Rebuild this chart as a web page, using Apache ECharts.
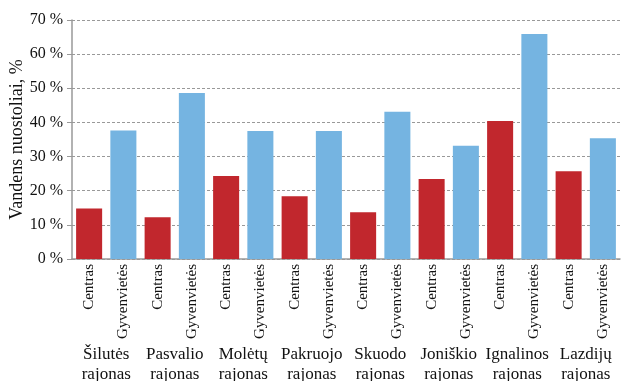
<!DOCTYPE html>
<html>
<head>
<meta charset="utf-8">
<script src="https://cdn.jsdelivr.net/npm/echarts@6/dist/echarts.min.js"></script>
<style>
  html, body { margin: 0; padding: 0; background: #fff; }
  #main { width: 621px; height: 381px; }
</style>
</head>
<body>
<div id="main"></div>
<script>
// duomenys
var districts = ['Šilutės\nrajonas', 'Pasvalio\nrajonas', 'Molėtų\nrajonas', 'Pakruojo\nrajonas',
  'Skuodo\nrajonas', 'Joniškio\nrajonas', 'Ignalinos\nrajonas', 'Lazdijų\nrajonas'];
var kinds = ['Centras', 'Gyvenvietės'];
var centras = [14.8, 12.2, 24.3, 18.4, 13.7, 23.4, 40.4, 25.7];
var gyvenvietes = [37.6, 48.6, 37.5, 37.5, 43.1, 33.2, 65.9, 35.4];
var yTicks = [0, 10, 20, 30, 40, 50, 60, 70];

var RED = '#c1272d';
var BLUE = '#75b4e1';
var FONT = '"Liberation Serif", "DejaVu Serif", serif';

// 16 stulpelių: kiekvienam rajonui centras ir gyvenvietės
var cats = [];
var vals = [];
districts.forEach(function (d, i) {
  cats.push(kinds[0]);
  vals.push({ value: centras[i], itemStyle: { color: RED } });
  cats.push(kinds[1]);
  vals.push({ value: gyvenvietes[i], itemStyle: { color: BLUE } });
});

var myChart = echarts.init(document.getElementById('main'));

var option = {
  animation: false,
  grid: { left: 72, right: 1, top: 20, bottom: 122, outerBoundsMode: 'none', containLabel: false },
  xAxis: [{
    type: 'category',
    data: cats,
    position: 'bottom',
    axisLine: { lineStyle: { color: '#999', width: 1.5 } },
    axisTick: { length: 78, lineStyle: { color: '#999' } },
    axisLabel: {
      rotate: 90,
      interval: 0,
      margin: 5,
      color: '#111',
      fontFamily: FONT,
      fontSize: 15
    }
  }, {
    type: 'category',
    data: districts,
    position: 'bottom',
    axisLine: { show: false },
    axisTick: { length: 122, lineStyle: { color: '#999' } },
    axisLabel: {
      interval: 0,
      margin: 86,
      color: '#111',
      fontFamily: FONT,
      fontSize: 17,
      lineHeight: 20,
      verticalAlign: 'top'
    }
  }],
  yAxis: {
    type: 'value',
    min: 0,
    max: 70,
    interval: 10,
    name: 'Vandens nuostoliai, %',
    nameLocation: 'middle',
    nameGap: 46,
    nameMoveOverlap: false,
    nameTextStyle: { fontFamily: FONT, fontSize: 18, color: '#111' },
    axisLine: { show: true, lineStyle: { color: '#999', width: 1.5 } },
    axisTick: { show: true, length: 5, lineStyle: { color: '#999' } },
    axisLabel: {
      margin: 9,
      color: '#111',
      fontFamily: FONT,
      fontSize: 16,
      formatter: function (v) { return yTicks.indexOf(v) >= 0 ? v + ' %' : ''; }
    },
    splitLine: { lineStyle: { color: '#999', type: [3, 2] } }
  },
  series: [{
    type: 'bar',
    data: vals,
    barCategoryGap: '24%'
  }]
};

myChart.setOption(option);
</script>
</body>
</html>
